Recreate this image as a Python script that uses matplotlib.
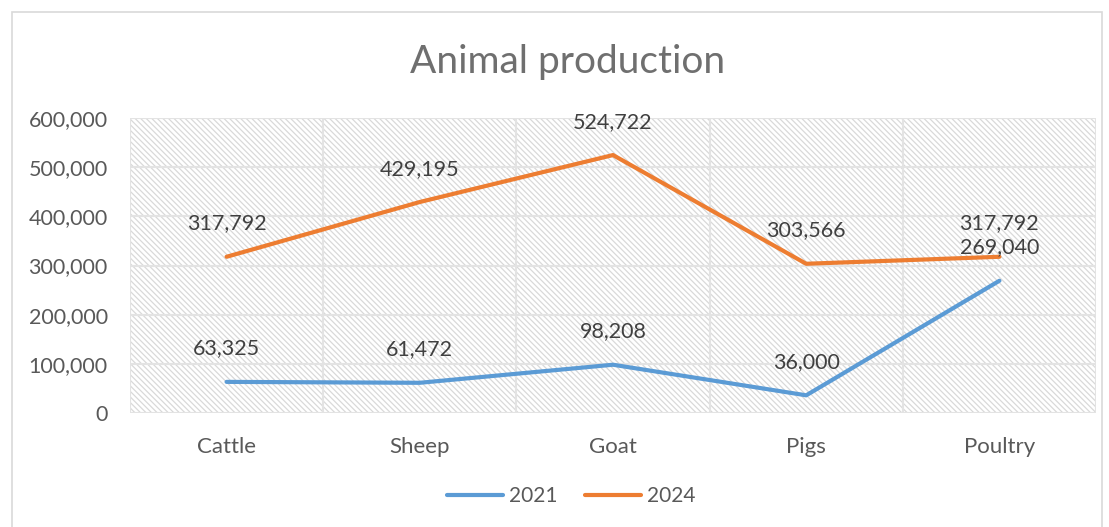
import matplotlib.pyplot as plt
from matplotlib.patches import Rectangle
from matplotlib.lines import Line2D
import numpy as np

plt.rcParams['font.family'] = ['Lato', 'DejaVu Sans']
plt.rcParams['hatch.color'] = '#d9d9d9'
plt.rcParams['hatch.linewidth'] = 0.9

categories = ['Cattle', 'Sheep', 'Goat', 'Pigs', 'Poultry']
years = ['2021', '2024']
values_2021 = [63325, 61472, 98208, 36000, 269040]
values_2024 = [317792, 429195, 524722, 303566, 317792]
colors = ['#5B9BD5', '#ED7D31']
text_color = '#595959'

fig = plt.figure(figsize=(11.09, 5.27), dpi=100)
ax = fig.add_axes([0.1172, 0.2163, 0.8711, 0.5597])

# chart border
fig.patches.append(Rectangle((12 / 1109, -0.01), 1090 / 1109, 1 - 12 / 527 + 0.01,
                             transform=fig.transFigure, fill=False,
                             edgecolor='#d9d9d9', linewidth=1.2))

x = np.arange(len(categories))
ax.set_xlim(-0.5, len(categories) - 0.5)
ax.set_ylim(0, 600000)

# hatched plot area background
ax.add_patch(Rectangle((0, 0), 1, 1, transform=ax.transAxes, facecolor='white',
                       hatch='\\\\\\\\\\\\', edgecolor='#d9d9d9', linewidth=0, zorder=0))

for yv in range(0, 600001, 100000):
    ax.axhline(yv, color='#e3e3e3', linewidth=1.5, zorder=1)
for xv in np.arange(-0.5, len(categories), 1.0):
    ax.axvline(xv, color='#e3e3e3', linewidth=1.5, zorder=1)

for vals, c in zip([values_2021, values_2024], colors):
    ax.plot(x, vals, color=c, linewidth=3, solid_capstyle='round', zorder=3)
    for xi, v in zip(x, vals):
        ax.annotate(f'{v:,}', (xi, v), xytext=(0, 24), textcoords='offset points',
                    ha='center', va='center', fontsize=15.5, color='#404040', zorder=4)

for s in ax.spines.values():
    s.set_visible(False)
ax.set_xticks(x)
ax.set_xticklabels(categories)
ax.set_yticks(range(0, 600001, 100000))
ax.set_yticklabels([f'{v:,}' for v in range(0, 600001, 100000)])
ax.tick_params(length=0, labelsize=15.5, labelcolor=text_color)
ax.tick_params(axis='x', pad=17, labelsize=16)
ax.tick_params(axis='y', pad=16)

fig.text(0.512, 0.883, 'Animal production', ha='center', va='center',
         fontsize=28, color='#6f6f6f')

handles = [Line2D([], [], color=c, linewidth=3, solid_capstyle='round', label=y)
           for c, y in zip(colors, years)]
fig.legend(handles=handles, loc='center', bbox_to_anchor=(0.515, 0.058), ncol=2,
           frameon=False, fontsize=15, labelcolor=text_color, handlelength=2.7,
           columnspacing=1.3, handletextpad=0.3)

fig.savefig('out.png', dpi=100)
